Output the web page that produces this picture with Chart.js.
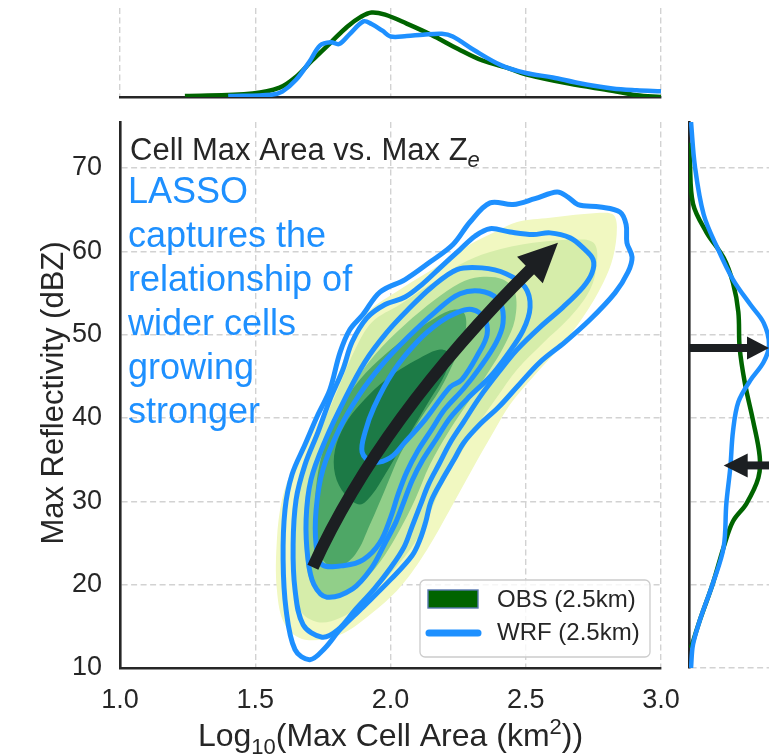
<!DOCTYPE html>
<html>
<head>
<meta charset="utf-8">
<title>Cell Max Area vs. Max Ze</title>
<script src="https://cdn.jsdelivr.net/npm/chart.js@4.4.0/dist/chart.umd.min.js"></script>
<style>
  html, body { margin: 0; padding: 0; background: #fff; }
  #wrap { position: relative; width: 769px; height: 755px; overflow: hidden; }
  #wrap canvas { position: absolute; left: 0; top: 0; }
</style>
</head>
<body>
<div id="wrap">
  <canvas id="mainChart" width="769" height="755"></canvas>
  <canvas id="topChart" width="769" height="755"></canvas>
  <canvas id="rightChart" width="769" height="755"></canvas>
</div>
<script>
// ---- axis ticks ----
const areaTicks = [1.0, 1.5, 2.0, 2.5, 3.0]
const dbzTicks = [10, 20, 30, 40, 50, 60, 70]

// ---- OBS filled KDE levels, [log10 area, dBZ], outer -> inner ----
const obsLevel1 = [[1.684, 13.4], [1.610, 15.2], [1.580, 19.4], [1.580, 25.4], [1.599, 30.2], [1.636, 33.8], [1.684, 36.8], [1.758, 41.0], [1.806, 45.2], [1.858, 49.4], [1.917, 52.7], [2.035, 55.4], [2.183, 58.4], [2.294, 60.8], [2.386, 62.3], [2.468, 63.5], [2.590, 64.0], [2.775, 64.6], [2.823, 64.4], [2.837, 62.9], [2.823, 59.3], [2.786, 56.2], [2.712, 52.1], [2.627, 48.5], [2.527, 44.9], [2.442, 41.6], [2.386, 38.6], [2.312, 34.4], [2.220, 29.0], [2.135, 24.2], [2.035, 19.7], [1.924, 16.4], [1.813, 14.0]]
const obsLevel2 = [[1.732, 15.5], [1.665, 17.0], [1.636, 21.8], [1.636, 26.6], [1.658, 31.4], [1.702, 35.6], [1.758, 39.8], [1.813, 44.0], [1.869, 48.2], [1.932, 51.5], [2.035, 53.6], [2.146, 56.0], [2.257, 58.4], [2.368, 59.9], [2.527, 61.0], [2.712, 61.4], [2.756, 60.8], [2.763, 58.6], [2.738, 55.4], [2.664, 52.1], [2.564, 49.0], [2.468, 45.8], [2.394, 42.5], [2.323, 39.2], [2.257, 35.6], [2.183, 31.4], [2.128, 27.2], [2.072, 24.2], [1.980, 20.6], [1.887, 17.6], [1.813, 16.0]]
const obsLevel3 = [[1.776, 18.5], [1.710, 20.0], [1.684, 24.2], [1.688, 29.0], [1.721, 33.8], [1.776, 38.6], [1.850, 43.4], [1.943, 47.6], [2.054, 51.2], [2.165, 54.2], [2.257, 56.2], [2.331, 56.9], [2.416, 56.6], [2.460, 55.1], [2.460, 51.8], [2.423, 48.8], [2.368, 45.8], [2.294, 42.2], [2.220, 38.6], [2.146, 34.4], [2.091, 30.2], [2.035, 26.6], [1.980, 23.6], [1.906, 20.6], [1.832, 18.8]]
const obsLevel4 = [[1.795, 22.0], [1.739, 23.6], [1.721, 27.8], [1.728, 32.6], [1.758, 36.8], [1.813, 41.0], [1.887, 44.6], [1.980, 47.6], [2.072, 50.0], [2.165, 52.0], [2.238, 53.0], [2.275, 52.4], [2.275, 50.0], [2.238, 47.0], [2.183, 43.4], [2.109, 39.8], [2.035, 35.6], [1.980, 31.4], [1.924, 27.2], [1.869, 23.6]]
const obsLevel5 = [[1.887, 29.6], [1.832, 30.8], [1.795, 33.2], [1.795, 36.2], [1.832, 39.2], [1.887, 41.6], [1.961, 44.0], [2.035, 45.8], [2.109, 47.2], [2.183, 48.2], [2.220, 47.6], [2.201, 45.2], [2.146, 42.2], [2.091, 39.2], [2.035, 36.2], [1.980, 33.2], [1.932, 30.8]]

// ---- WRF KDE contour lines, outer -> inner ----
const wrfLevel1 = [[1.702, 11.0], [1.647, 12.2], [1.614, 17.0], [1.603, 23.0], [1.610, 29.0], [1.636, 33.2], [1.684, 36.8], [1.732, 40.4], [1.776, 43.4], [1.813, 47.8], [1.850, 50.6], [1.898, 52.4], [1.961, 55.1], [2.054, 56.6], [2.146, 58.7], [2.231, 60.8], [2.294, 63.5], [2.368, 65.8], [2.453, 65.6], [2.534, 66.3], [2.616, 67.1], [2.656, 66.5], [2.693, 65.6], [2.775, 65.3], [2.848, 64.7], [2.871, 63.2], [2.874, 61.0], [2.893, 59.3], [2.878, 57.5], [2.830, 55.0], [2.738, 51.8], [2.645, 49.1], [2.553, 46.7], [2.470, 43.8], [2.400, 41.3], [2.330, 39.2], [2.270, 37.0], [2.235, 35.0], [2.190, 32.5], [2.150, 30.0], [2.130, 27.5], [2.110, 25.5], [2.080, 23.5], [2.000, 20.6], [1.898, 17.3], [1.813, 14.6], [1.758, 12.4]]
const wrfLevel2 = [[1.747, 13.7], [1.677, 15.2], [1.647, 19.4], [1.640, 24.8], [1.651, 30.2], [1.684, 34.4], [1.732, 38.3], [1.776, 42.2], [1.824, 45.8], [1.858, 49.1], [1.913, 52.0], [1.980, 53.6], [2.054, 54.5], [2.116, 56.0], [2.183, 58.0], [2.257, 60.2], [2.312, 61.8], [2.368, 62.7], [2.442, 62.3], [2.527, 62.0], [2.590, 62.2], [2.664, 61.6], [2.712, 60.4], [2.749, 59.0], [2.745, 57.4], [2.712, 55.7], [2.638, 53.3], [2.553, 50.9], [2.468, 48.2], [2.400, 45.5], [2.330, 42.5], [2.270, 39.5], [2.220, 37.0], [2.180, 34.5], [2.140, 32.0], [2.110, 29.5], [2.080, 27.0], [2.050, 24.5], [2.000, 22.0], [1.940, 19.5], [1.870, 17.0], [1.806, 14.6]]
const wrfLevel3 = [[1.765, 18.5], [1.717, 20.0], [1.695, 23.0], [1.688, 27.8], [1.706, 32.6], [1.760, 37.4], [1.830, 42.2], [1.905, 46.7], [1.985, 50.2], [2.065, 53.0], [2.153, 55.7], [2.246, 57.8], [2.338, 58.0], [2.427, 57.3], [2.497, 55.7], [2.516, 53.3], [2.490, 50.5], [2.430, 47.5], [2.370, 45.0], [2.290, 42.5], [2.220, 40.0], [2.170, 37.5], [2.120, 35.0], [2.080, 32.5], [2.050, 30.0], [2.020, 27.5], [1.980, 25.0], [1.930, 22.0], [1.860, 19.5]]
const wrfLevel4 = [[1.747, 22.4], [1.725, 24.8], [1.725, 29.0], [1.750, 33.8], [1.810, 38.6], [1.885, 42.8], [1.969, 46.4], [2.065, 49.7], [2.165, 52.7], [2.257, 54.9], [2.349, 55.1], [2.405, 53.8], [2.416, 51.4], [2.390, 49.0], [2.330, 46.0], [2.270, 43.5], [2.200, 41.0], [2.150, 38.5], [2.100, 36.0], [2.060, 33.5], [2.030, 31.0], [2.000, 28.0], [1.960, 25.0], [1.900, 23.0], [1.830, 22.3]]
const wrfLevel5 = [[1.895, 35.9], [1.906, 38.3], [1.939, 41.3], [2.009, 45.5], [2.098, 49.1], [2.183, 51.5], [2.250, 52.7], [2.301, 53.0], [2.346, 52.0], [2.357, 50.0], [2.323, 47.6], [2.264, 44.6], [2.220, 43.7], [2.128, 39.8], [2.054, 37.1], [1.998, 35.2], [1.932, 34.7]]

// ---- marginal KDEs ----
const obsAreaX = [1.24, 1.49, 1.59, 1.65, 1.71, 1.78, 1.84, 1.89, 1.93, 1.98, 2.06, 2.15, 2.25, 2.34, 2.44, 2.50, 2.66, 2.82, 2.91, 3.0]
const obsAreaDens = [0.02, 0.08, 0.21, 0.45, 0.82, 1.23, 1.58, 1.80, 1.90, 1.85, 1.65, 1.40, 1.08, 0.82, 0.64, 0.51, 0.30, 0.14, 0.04, 0.0]
const wrfAreaX = [1.40, 1.56, 1.60, 1.65, 1.70, 1.74, 1.78, 1.81, 1.85, 1.90, 1.93, 1.97, 2.00, 2.06, 2.12, 2.19, 2.23, 2.31, 2.41, 2.50, 2.60, 2.69, 2.82, 2.91, 3.0]
const wrfAreaDens = [0.02, 0.05, 0.12, 0.38, 0.79, 1.16, 1.23, 1.19, 1.42, 1.70, 1.64, 1.49, 1.36, 1.37, 1.40, 1.42, 1.36, 1.05, 0.71, 0.54, 0.44, 0.32, 0.19, 0.15, 0.13]

const obsZ = [73.0, 71.0, 65.7, 62.3, 59.2, 56.2, 52.7, 48.4, 44.1, 39.7, 35.4, 32.8, 29.7, 27.6, 24.5, 20.2, 15.9, 12.4]
const obsZDens = [0.0003, 0.0006, 0.003, 0.013, 0.026, 0.033, 0.037, 0.038, 0.042, 0.048, 0.053, 0.052, 0.043, 0.033, 0.026, 0.018, 0.0085, 0.0015]
const wrfZ = [75.5, 70.1, 64.4, 60.5, 56.6, 53.6, 51.4, 48.8, 46.7, 44.5, 41.9, 38.4, 34.1, 29.7, 24.5, 20.2, 15.9, 12.8, 10.0]
const wrfZDens = [0.0015, 0.0045, 0.011, 0.021, 0.033, 0.046, 0.056, 0.060, 0.056, 0.046, 0.037, 0.033, 0.031, 0.028, 0.026, 0.018, 0.0085, 0.003, 0.0015]

// ---- arrows ----
const trendArrow = { tail: [1.713, 22.1], ctrl: [1.987, 41.6], tip: [2.619, 61.0] }
const peakArrowZ = 48.4     // WRF peak, points right
const shiftArrowZ = 34.3    // OBS peak, points left
const shiftArrowTip = 0.026

const annotation = ['LASSO', 'captures the', 'relationship of', 'wider cells', 'growing', 'stronger']

// ---- styles ----
const BLUE = '#1E90FF'
const GREEN = '#006400'
const INK = '#262626'
const ARROW = '#1c1f22'
const GRID = '#d2d2d2'
const FONT = "'Liberation Sans', Arial, Helvetica, sans-serif"
const obsFills = ['rgb(241,248,193)', 'rgb(214,237,170)', 'rgb(145,207,137)', 'rgb(78,167,102)', 'rgb(28,122,70)']

Chart.defaults.font.family = FONT
Chart.defaults.color = INK

const toPts = arr => arr.map(([x, y]) => ({ x, y }))
const zip = (xs, ys) => xs.map((x, i) => ({ x, y: ys[i] }))

const gridOpts = { color: GRID, lineWidth: 1.4, drawTicks: false }
const borderOpts = { display: true, color: INK, width: 2.6, dash: [6, 3.5] }
const baseOpts = {
    responsive: false,
    animation: false,
    events: [],
    plugins: { legend: { display: false }, tooltip: { enabled: false } },
    elements: { point: { radius: 0 } }
}

// contour datasets are closed rings: let the line element wrap its spline
const closeRings = {
    id: 'closeRings',
    afterDatasetUpdate(chart, args) {
        const ds = chart.data.datasets[args.index]
        if (ds.ring && args.meta.dataset) {
            args.meta.dataset._loop = true
            args.meta.dataset._fullLoop = true
        }
    }
}

// draws text runs with sub/superscripts
function richText(ctx, runs, x, y, size, align) {
    const fontOf = r => `${r.italic ? 'italic ' : ''}${Math.round(size * (r.scale || 1))}px ${FONT}`
    let total = 0
    runs.forEach(r => { ctx.font = fontOf(r); total += ctx.measureText(r.text).width })
    let cx = align === 'center' ? x - total / 2 : x
    ctx.textAlign = 'left'
    runs.forEach(r => {
        ctx.font = fontOf(r)
        ctx.fillText(r.text, cx, y + (r.dy || 0) * size)
        cx += ctx.measureText(r.text).width
    })
}

function arrowHead(ctx, tip, ux, uy, len, half) {
    const bx = tip.x - ux * len, by = tip.y - uy * len
    ctx.beginPath()
    ctx.moveTo(tip.x, tip.y)
    ctx.lineTo(bx - uy * half, by + ux * half)
    ctx.lineTo(bx + uy * half, by - ux * half)
    ctx.closePath()
    ctx.fill()
}

function straightArrow(ctx, from, to, shaft, len, half) {
    const d = Math.hypot(to.x - from.x, to.y - from.y)
    const ux = (to.x - from.x) / d, uy = (to.y - from.y) / d
    ctx.lineWidth = shaft
    ctx.lineCap = 'butt'
    ctx.beginPath()
    ctx.moveTo(from.x, from.y)
    ctx.lineTo(to.x - ux * (len - 2), to.y - uy * (len - 2))
    ctx.stroke()
    arrowHead(ctx, to, ux, uy, len, half)
}

/**
 * Main joint KDE panel
 */
const mainDatasets = []
const obsLevels = [obsLevel1, obsLevel2, obsLevel3, obsLevel4, obsLevel5]
const wrfLevels = [wrfLevel1, wrfLevel2, wrfLevel3, wrfLevel4, wrfLevel5]

obsLevels.forEach((lvl, i) => {
    mainDatasets.push({
        ring: true,
        data: toPts(lvl),
        fill: 'shape',
        backgroundColor: obsFills[i],
        borderWidth: 0,
        tension: 0.35,
        order: 20 - i
    })
})
wrfLevels.forEach(lvl => {
    mainDatasets.push({
        ring: true,
        data: toPts(lvl),
        fill: false,
        borderColor: BLUE,
        borderWidth: 5,
        borderJoinStyle: 'round',
        tension: 0.35,
        order: 5
    })
})

const mainDecor = {
    id: 'mainDecor',
    afterDatasetsDraw(chart) {
        const { ctx, scales: { x, y } } = chart
        const px = p => ({ x: x.getPixelForValue(p[0]), y: y.getPixelForValue(p[1]) })
        const p0 = px(trendArrow.tail), p1 = px(trendArrow.ctrl), p2 = px(trendArrow.tip)

        // curved trend arrow: shaft cut where the head starts
        const headLen = 39, headHalf = 18.5
        const quad = t => ({
            x: (1 - t) * (1 - t) * p0.x + 2 * t * (1 - t) * p1.x + t * t * p2.x,
            y: (1 - t) * (1 - t) * p0.y + 2 * t * (1 - t) * p1.y + t * t * p2.y
        })
        let tCut = 1
        for (let t = 1; t > 0; t -= 0.002) {
            const q = quad(t)
            if (Math.hypot(q.x - p2.x, q.y - p2.y) >= headLen - 3) { tCut = t; break }
        }
        const c = { x: p0.x + (p1.x - p0.x) * tCut, y: p0.y + (p1.y - p0.y) * tCut }
        const e = quad(tCut)
        ctx.save()
        ctx.strokeStyle = ARROW
        ctx.fillStyle = ARROW
        ctx.lineWidth = 12
        ctx.lineCap = 'butt'
        ctx.beginPath()
        ctx.moveTo(p0.x, p0.y)
        ctx.quadraticCurveTo(c.x, c.y, e.x, e.y)
        ctx.stroke()
        const d = Math.hypot(p2.x - e.x, p2.y - e.y)
        arrowHead(ctx, p2, (p2.x - e.x) / d, (p2.y - e.y) / d, headLen, headHalf)
        ctx.restore()
    },
    afterDraw(chart) {
        const { ctx, chartArea: a } = chart
        ctx.save()
        ctx.fillStyle = INK
        ctx.textBaseline = 'alphabetic'

        // panel title
        richText(ctx, [{ text: 'Cell Max Area vs. Max Z' }, { text: 'e', scale: 0.72, dy: 0.22, italic: true }], a.left + 10, a.top + 38, 31, 'left')

        // blue annotation
        ctx.fillStyle = BLUE
        ctx.font = `36px ${FONT}`
        ctx.textAlign = 'left'
        annotation.forEach((line, i) => ctx.fillText(line, a.left + 8, a.top + 81 + i * 44))

        // axis titles
        ctx.fillStyle = INK
        richText(ctx, [{ text: 'Log' }, { text: '10', scale: 0.7, dy: 0.25 }, { text: '(Max Cell Area (km' }, { text: '2', scale: 0.7, dy: -0.38 }, { text: '))' }],
            (a.left + a.right) / 2, 746, 31.5, 'center')
        ctx.save()
        ctx.translate(63, (a.top + a.bottom) / 2 - 2)
        ctx.rotate(-Math.PI / 2)
        ctx.font = `31px ${FONT}`
        ctx.textAlign = 'center'
        ctx.fillText('Max Reflectivity (dBZ)', 0, 0)
        ctx.restore()

        // legend
        const lx = a.right - 241, ly = a.bottom - 88, lw = 230, lh = 77
        ctx.beginPath()
        ctx.roundRect(lx, ly, lw, lh, 5)
        ctx.fillStyle = 'rgba(255,255,255,0.8)'
        ctx.fill()
        ctx.strokeStyle = '#cccccc'
        ctx.lineWidth = 1.3
        ctx.stroke()
        ctx.fillStyle = GREEN
        ctx.fillRect(lx + 8, ly + 10, 50, 18)
        ctx.strokeStyle = '#5878b0'
        ctx.lineWidth = 1.4
        ctx.strokeRect(lx + 8, ly + 10, 50, 18)
        ctx.strokeStyle = BLUE
        ctx.lineWidth = 7
        ctx.lineCap = 'round'
        ctx.beginPath()
        ctx.moveTo(lx + 9, ly + 53)
        ctx.lineTo(lx + 58, ly + 53)
        ctx.stroke()
        ctx.fillStyle = INK
        ctx.font = `24px ${FONT}`
        ctx.textBaseline = 'middle'
        ctx.fillText('OBS (2.5km)', lx + 77, ly + 20)
        ctx.fillText('WRF (2.5km)', lx + 77, ly + 53)
        ctx.restore()
    }
}

new Chart(document.getElementById('mainChart'), {
    type: 'line',
    data: { datasets: mainDatasets },
    options: {
        ...baseOpts,
        layout: { padding: { left: 0, right: 108, top: 122, bottom: 0 } },
        scales: {
            x: {
                type: 'linear', min: 1, max: 3,
                afterBuildTicks: s => { s.ticks = areaTicks.map(v => ({ value: v })) },
                afterFit: s => { s.height = 87 },
                ticks: { font: { size: 27 }, padding: 16, color: INK, callback: v => v.toFixed(1) },
                grid: gridOpts, border: borderOpts
            },
            y: {
                type: 'linear', min: 10, max: 75.5,
                afterBuildTicks: s => { s.ticks = dbzTicks.map(v => ({ value: v })) },
                afterFit: s => { s.width = 120 },
                ticks: { font: { size: 27 }, padding: 18, color: INK },
                grid: gridOpts, border: borderOpts
            }
        }
    },
    plugins: [closeRings, mainDecor]
})

/**
 * Top marginal: log10 area density
 */
new Chart(document.getElementById('topChart'), {
    type: 'line',
    data: {
        datasets: [
            { data: zip(wrfAreaX, wrfAreaDens), borderColor: BLUE, borderWidth: 4.5, tension: 0.35, fill: false, order: 1 },
            { data: zip(obsAreaX, obsAreaDens), borderColor: GREEN, borderWidth: 4.5, tension: 0.35, fill: false, order: 2 }
        ]
    },
    options: {
        ...baseOpts,
        layout: { padding: { left: 120, right: 108, top: 8, bottom: 0 } },
        scales: {
            x: {
                type: 'linear', min: 1, max: 3,
                afterBuildTicks: s => { s.ticks = areaTicks.map(v => ({ value: v })) },
                afterFit: s => { s.height = 658 },
                ticks: { display: false },
                grid: gridOpts, border: borderOpts
            },
            y: { type: 'linear', min: 0, max: 2.0, display: false }
        }
    }
})

/**
 * Right marginal: dBZ density, with peak arrows
 */
const rightArrows = {
    id: 'rightArrows',
    afterDatasetsDraw(chart) {
        const { ctx, scales: { x, y } } = chart
        ctx.save()
        ctx.strokeStyle = ARROW
        ctx.fillStyle = ARROW
        const yPeak = y.getPixelForValue(peakArrowZ)
        straightArrow(ctx, { x: x.getPixelForValue(0), y: yPeak }, { x: x.getPixelForValue(x.max), y: yPeak }, 8, 22, 11.5)
        const yShift = y.getPixelForValue(shiftArrowZ)
        straightArrow(ctx, { x: x.getPixelForValue(x.max) + 2, y: yShift }, { x: x.getPixelForValue(shiftArrowTip), y: yShift }, 8, 24, 12)
        ctx.restore()
    }
}

new Chart(document.getElementById('rightChart'), {
    type: 'line',
    data: {
        datasets: [
            { data: zip(wrfZDens, wrfZ), borderColor: BLUE, borderWidth: 4.5, tension: 0.35, fill: false, order: 1 },
            { data: zip(obsZDens, obsZ), borderColor: GREEN, borderWidth: 4.5, tension: 0.35, fill: false, order: 2 }
        ]
    },
    options: {
        ...baseOpts,
        indexAxis: 'y',
        layout: { padding: { left: 0, right: 0, top: 122, bottom: 87 } },
        scales: {
            x: { type: 'linear', min: 0, max: 0.06, display: false },
            y: {
                type: 'linear', min: 10, max: 75.5,
                afterBuildTicks: s => { s.ticks = dbzTicks.map(v => ({ value: v })) },
                afterFit: s => { s.width = 689 },
                ticks: { display: false },
                grid: gridOpts, border: borderOpts
            }
        }
    },
    plugins: [rightArrows]
})
</script>
</body>
</html>
